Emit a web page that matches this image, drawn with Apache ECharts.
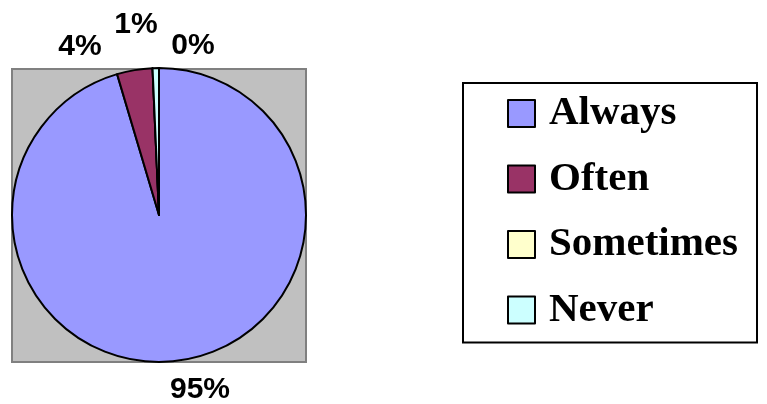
<!DOCTYPE html>
<html>
<head>
<meta charset="utf-8">
<script src="https://cdn.jsdelivr.net/npm/echarts@6/dist/echarts.min.js"></script>
<style>
html,body{margin:0;padding:0;background:#fff;}
#chart{width:767px;height:404px;}
</style>
</head>
<body>
<div id="chart"></div>
<script>
var categories = ['Always', 'Often', 'Sometimes', 'Never'];
var values = [95.4, 3.9, 0, 0.7];
var colors = ['#9999FF', '#993366', '#FFFFCC', '#CCFFFF'];
// label anchor spots (Excel-style placement around the pie)
var labelSpots = [[200, 390], [80, 47], [193, 46], [136, 25]];

var chart = echarts.init(document.getElementById('chart'), null, {renderer: 'canvas'});
var data = categories.map(function (c, i) {
  return {name: c, value: values[i], itemStyle: {color: colors[i]}};
});
chart.setOption({
  animation: false,
  graphic: [{
    type: 'rect',
    z: -10,
    shape: {x: 12, y: 69, width: 294, height: 293},
    style: {fill: '#C0C0C0', stroke: '#808080', lineWidth: 2}
  }],
  legend: {
    orient: 'vertical',
    left: 463,
    top: 83,
    padding: [10, 19, 12, 44],
    borderColor: '#000',
    borderWidth: 2,
    itemWidth: 27,
    itemHeight: 27,
    itemGap: 24.5,
    icon: 'rect',
    selectedMode: false,
    itemStyle: {borderColor: '#000', borderWidth: 2},
    textStyle: {
      fontFamily: 'Liberation Serif',
      fontWeight: 'bold',
      fontSize: 41,
      color: '#000',
      lineHeight: 40,
      padding: [0, 0, 0, 9]
    },
    data: categories
  },
  series: [{
    type: 'pie',
    center: [159, 215],
    radius: 147,
    startAngle: 90,
    clockwise: true,
    percentPrecision: 0,
    avoidLabelOverlap: false,
    minShowLabelAngle: 0,
    silent: true,
    emphasis: {disabled: true},
    itemStyle: {borderColor: '#000', borderWidth: 2},
    label: {
      show: true,
      position: 'outside',
      formatter: '{d}%',
      fontFamily: 'Liberation Sans',
      fontWeight: 'bold',
      fontSize: 30,
      color: '#000'
    },
    labelLine: {show: false},
    labelLayout: function (p) {
      var s = labelSpots[p.dataIndex];
      return {x: s[0], y: s[1], align: 'center', verticalAlign: 'middle', hideOverlap: false};
    },
    data: data
  }]
});
</script>
</body>
</html>
